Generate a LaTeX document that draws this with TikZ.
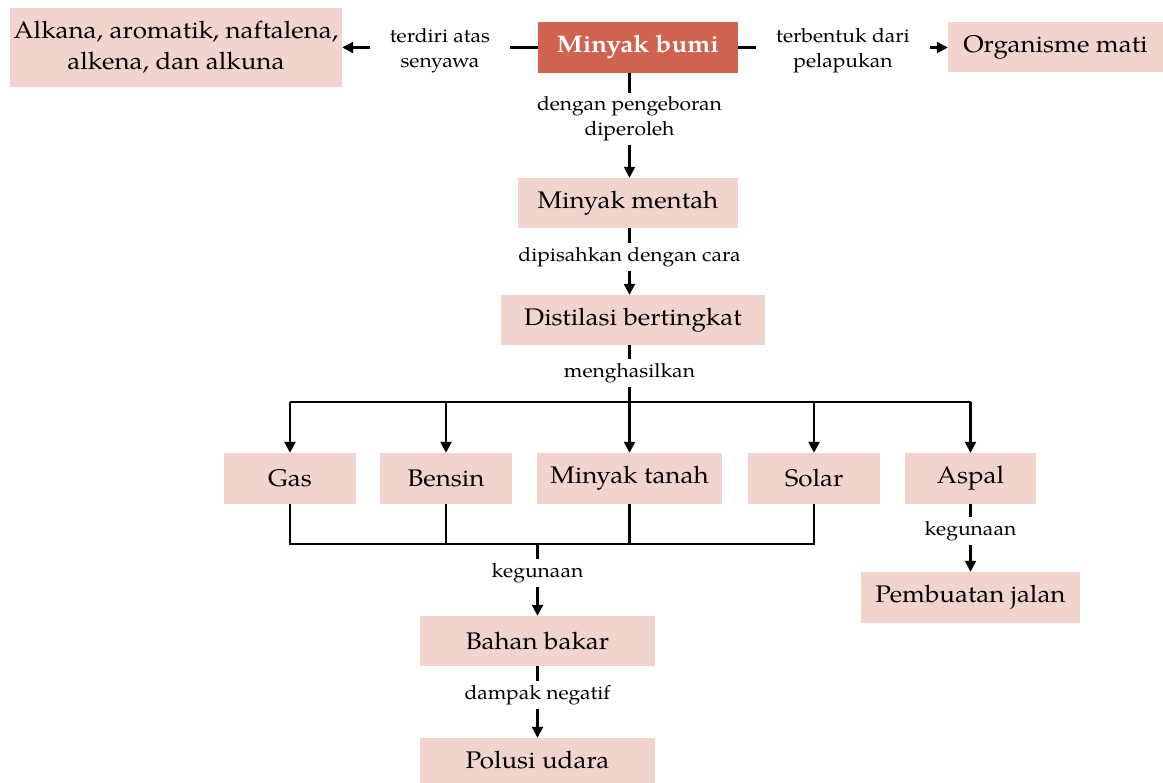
\documentclass[tikz,border=0pt]{standalone}
\usepackage{fontspec}
\setmainfont[FakeStretch=1.08]{TeX Gyre Pagella}
\usepackage{tikz}
\usetikzlibrary{arrows.meta,positioning}
\definecolor{boxpink}{RGB}{242,212,206}
\definecolor{boxred}{RGB}{208,98,80}

\begin{document}
\begin{tikzpicture}[x=1pt,y=-1pt,
    box/.style={fill=boxpink, inner sep=0pt, align=center, font=\fontsize{24}{31}\selectfont},
    lbl/.style={fill=white, inner xsep=20pt, inner ysep=4pt, yshift=-3pt, align=center, font=\fontsize{19.5}{25}\selectfont},
    link/.style={line width=2.4pt},
    arr/.style={link, -{Triangle[length=11pt,width=11pt]}}]
    \useasboundingbox (0,0) rectangle (1163,783);

    % Top row
    \node[box, fill=boxred, text=white, font=\fontsize{24}{31}\selectfont\bfseries,
        minimum width=200, minimum height=51] (bumi) at (638,47.5) {Minyak bumi};
    \node[box, minimum width=332, minimum height=79] (senyawa) at (176,47.5)
        {Alkana, aromatik, naftalena,\\alkena, dan alkuna};
    \node[box, minimum width=215, minimum height=50] (organisme) at (1055.5,47.5) {Organisme mati};

    % Main column
    \node[box, minimum width=220, minimum height=50] (mentah) at (628,203) {Minyak mentah};
    \node[box, minimum width=264, minimum height=50] (distilasi) at (633,320) {Distilasi bertingkat};

    % Products
    \node[box, minimum width=132, minimum height=51] (gas) at (290,478.5) {Gas};
    \node[box, minimum width=132, minimum height=51] (bensin) at (446,478.5) {Bensin};
    \node[box, minimum width=185, minimum height=51] (tanah) at (629.5,478.5) {Minyak tanah};
    \node[box, minimum width=132, minimum height=51] (solar) at (814,478.5) {Solar};
    \node[box, minimum width=131, minimum height=51] (aspal) at (970.5,478.5) {Aspal};

    % Uses
    \node[box, minimum width=219, minimum height=51] (jalan) at (970.5,597.5) {Pembuatan jalan};
    \node[box, minimum width=235, minimum height=50] (bahan) at (537.5,641) {Bahan bakar};
    \node[box, minimum width=235, minimum height=45] (polusi) at (537.5,760.5) {Polusi udara};

    \coordinate (top) at (629.5,402);
    \coordinate (bot) at (537.5,544);

    % Connectors
    \draw[arr] (bumi) -- node[lbl] {terdiri atas\\senyawa} (senyawa);
    \draw[arr] (bumi) -- node[lbl] {terbentuk dari\\pelapukan} (organisme);
    \draw[arr] (bumi.south -| tanah) -- node[lbl, pos=0.41] {dengan pengeboran\\diperoleh} (mentah.north -| tanah);
    \draw[arr] (mentah.south -| tanah) -- node[lbl, pos=0.39] {dipisahkan dengan cara} (distilasi.north -| tanah);
    \draw[link] (distilasi.south -| tanah) -- node[lbl, pos=0.44] {menghasilkan} (top);
    \draw[link] (gas.north |- top) -- (aspal.north |- top);
    \foreach \n in {gas,bensin,tanah,solar,aspal}
        \draw[arr] (\n.north |- top) -- (\n.north);
    \draw[link] (gas.south) |- (solar.south |- bot) -- (solar.south);
    \draw[link] (bensin.south) -- (bensin.south |- bot);
    \draw[link] (tanah.south) -- (tanah.south |- bot);
    \draw[arr] (bot) -- node[lbl, pos=0.36] {kegunaan} (bahan.north);
    \draw[arr] (bahan) -- node[lbl, pos=0.36] {dampak negatif} (polusi);
    \draw[arr] (aspal) -- node[lbl, pos=0.35] {kegunaan} (jalan);
\end{tikzpicture}
\end{document}
